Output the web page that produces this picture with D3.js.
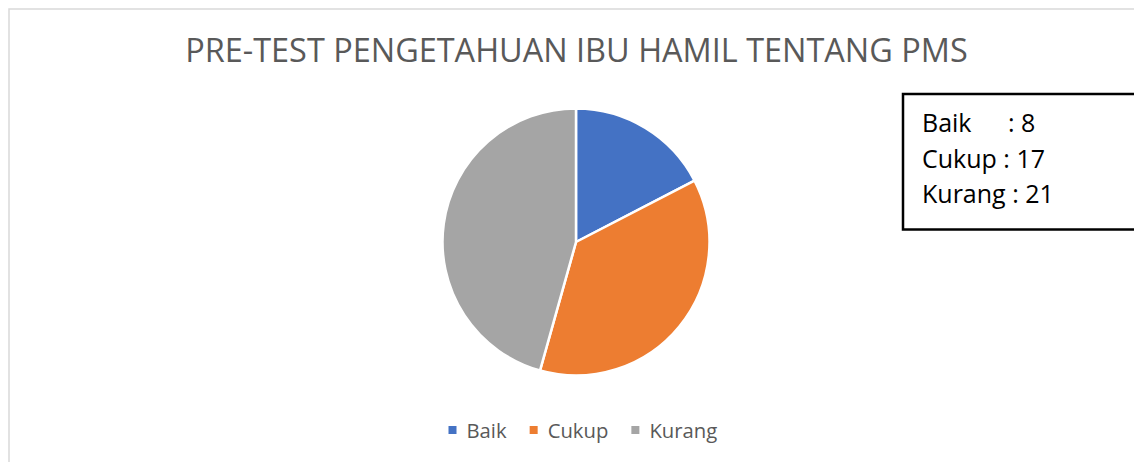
<!DOCTYPE html>
<html>
<head>
<meta charset="utf-8">
<script src="https://cdn.jsdelivr.net/npm/d3@7"></script>
<style>
  html, body { margin: 0; padding: 0; background: #fff; }
  svg { display: block; }
</style>
</head>
<body>
<svg id="chart" width="1134" height="462"></svg>
<script>
const title = "PRE-TEST PENGETAHUAN IBU HAMIL TENTANG PMS";
const categories = ["Baik", "Cukup", "Kurang"];
const values = [8, 17, 21];
const colors = ["#4472C4", "#ED7D31", "#A5A5A5"];

const svg = d3.select("#chart");
const font = "'Open Sans', 'Noto Sans', sans-serif";

// chart area border (only left and top visible)
svg.append("rect")
  .attr("x", 9).attr("y", 9)
  .attr("width", 1200).attr("height", 600)
  .attr("fill", "#fff")
  .attr("stroke", "#d9d9d9").attr("stroke-width", 1.5);

// title
const t = svg.append("text")
  .attr("x", 576.5).attr("y", 62)
  .attr("text-anchor", "middle")
  .attr("font-family", font)
  .attr("font-size", 27)
  .attr("fill", "#595959")
  .text(title);
const tw = t.node().getComputedTextLength();
t.attr("font-size", 27 * 783 / tw);

// pie
const cx = 576, cy = 242, r = 133.5;
const pie = d3.pie().sort(null).value(d => d)(values);
const arc = d3.arc().innerRadius(0).outerRadius(r);
svg.append("g")
  .attr("transform", `translate(${cx},${cy})`)
  .selectAll("path")
  .data(pie)
  .join("path")
  .attr("d", arc)
  .attr("fill", (d, i) => colors[i])
  .attr("stroke", "#fff")
  .attr("stroke-width", 2.5)
  .attr("stroke-linejoin", "round");

// legend
const legend = svg.append("g");
let lx = 448.5;
categories.forEach((c, i) => {
  legend.append("rect")
    .attr("x", lx).attr("y", 426)
    .attr("width", 8).attr("height", 8)
    .attr("fill", colors[i]);
  const txt = legend.append("text")
    .attr("x", lx + 18).attr("y", 437.7)
    .attr("font-family", font)
    .attr("font-size", 20.3)
    .attr("fill", "#595959")
    .text(c);
  lx += 18 + txt.node().getComputedTextLength() + 23;
});

// annotation box
svg.append("rect")
  .attr("x", 903).attr("y", 94)
  .attr("width", 300).attr("height", 135.5)
  .attr("fill", "#fff")
  .attr("stroke", "#000").attr("stroke-width", 2.5);

const boxFs = 25;
const lineY = [132, 167.5, 203];

categories.forEach((c, i) => {
  if (i === 0) {
    svg.append("text")
      .attr("x", 922).attr("y", lineY[i])
      .attr("font-family", font).attr("font-size", boxFs).attr("fill", "#000")
      .text(c);
    svg.append("text")
      .attr("x", 1008).attr("y", lineY[i])
      .attr("font-family", font).attr("font-size", boxFs).attr("fill", "#000")
      .text(": " + values[i]);
  } else {
    svg.append("text")
      .attr("x", 922).attr("y", lineY[i])
      .attr("font-family", font).attr("font-size", boxFs).attr("fill", "#000")
      .text(c + " : " + values[i]);
  }
});
</script>
</body>
</html>
